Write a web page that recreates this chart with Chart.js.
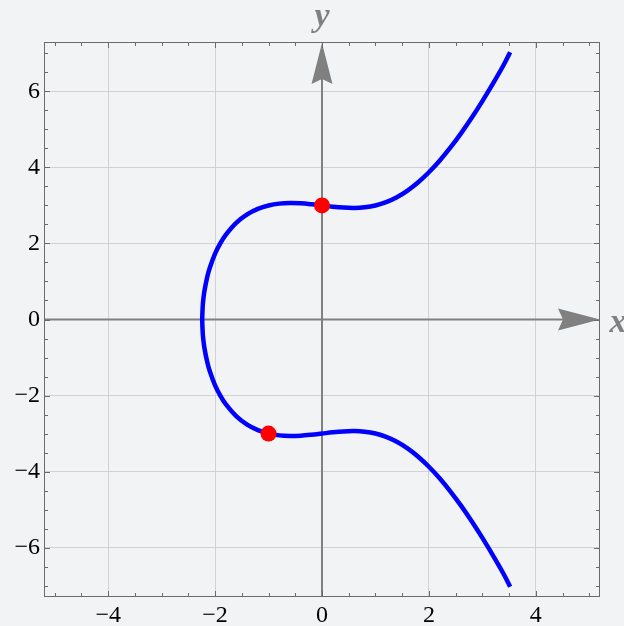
<!DOCTYPE html>
<html>
<head>
<meta charset="utf-8">
<script src="https://cdn.jsdelivr.net/npm/chart.js@4.4.1/dist/chart.umd.min.js"></script>
<style>
  html, body { margin: 0; padding: 0; background: #f2f3f5; }
  #wrap { width: 624px; height: 626px; }
</style>
</head>
<body>
<div id="wrap"><canvas id="curveChart" width="624" height="626"></canvas></div>
<script>
// --- values ---
const curveX = [-2.24, -2.23, -2.22, -2.2, -2.15, -2.1, -2.0, -1.9, -1.8, -1.6, -1.4, -1.2, -1.0,
    -0.8, -0.6, -0.4, -0.2, 0, 0.2, 0.4, 0.6, 0.8, 1.0, 1.2, 1.4, 1.6, 1.8, 2.0,
    2.2, 2.4, 2.6, 2.8, 3.0, 3.2, 3.4, 3.52];
const upperY = [0, 0.375, 0.528, 0.743, 1.101, 1.356, 1.732, 2.010, 2.229, 2.550, 2.767, 2.911, 3.0,
    3.048, 3.063, 3.056, 3.032, 3.0, 2.968, 2.944, 2.935, 2.952, 3.0, 3.087, 3.216, 3.391, 3.610, 3.873,
    4.177, 4.519, 4.897, 5.306, 5.745, 6.210, 6.701, 7.03];
const lowerY = [0, -0.375, -0.528, -0.743, -1.101, -1.356, -1.732, -2.010, -2.229, -2.550, -2.767, -2.911, -3.0,
    -3.048, -3.063, -3.056, -3.032, -3.0, -2.968, -2.944, -2.935, -2.952, -3.0, -3.087, -3.216, -3.391, -3.610, -3.873,
    -4.177, -4.519, -4.897, -5.306, -5.745, -6.210, -6.701, -7.03];
const markX = [0, -1];
const markY = [3, -3];
const xTicks = [-4, -2, 0, 2, 4];
const yTicks = [-6, -4, -2, 0, 2, 4, 6];

const axisColor = '#808080';
const frameColor = '#6b6b6b';
const gridColor = '#d2d2d2';
const serif = "'Liberation Serif', 'DejaVu Serif', serif";

// one continuous path: lower branch from the right end back to the root, then the upper branch
const curvePoints = [];
for (let i = curveX.length - 1; i >= 1; i--) curvePoints.push({ x: curveX[i], y: lowerY[i] });
for (let i = 0; i < curveX.length; i++) curvePoints.push({ x: curveX[i], y: upperY[i] });
const markPoints = markX.map((v, i) => ({ x: v, y: markY[i] }));

const fmt = v => (v < 0 ? '\u2212' + Math.abs(v) : String(v));

// axes with arrows, frame with inward ticks, axis letters
const axesPlugin = {
    id: 'axesPlugin',
    beforeDatasetsDraw(chart) {
        const { ctx, chartArea: a, scales: { x, y } } = chart;
        const x0 = x.getPixelForValue(0);
        const y0 = y.getPixelForValue(0);
        ctx.save();
        ctx.strokeStyle = axisColor;
        ctx.lineWidth = 2;
        ctx.beginPath();
        ctx.moveTo(a.left, y0); ctx.lineTo(a.right - 30, y0);
        ctx.moveTo(x0, a.bottom); ctx.lineTo(x0, a.top + 30);
        ctx.stroke();
        ctx.fillStyle = axisColor;
        // x arrow
        ctx.beginPath();
        ctx.moveTo(a.right, y0);
        ctx.lineTo(a.right - 42, y0 - 11);
        ctx.lineTo(a.right - 37, y0);
        ctx.lineTo(a.right - 42, y0 + 11);
        ctx.closePath();
        ctx.fill();
        // y arrow
        ctx.beginPath();
        ctx.moveTo(x0, a.top + 1);
        ctx.lineTo(x0 - 10.5, a.top + 42);
        ctx.lineTo(x0, a.top + 37);
        ctx.lineTo(x0 + 10.5, a.top + 42);
        ctx.closePath();
        ctx.fill();
        ctx.restore();
    },
    afterDraw(chart) {
        const { ctx, chartArea: a, scales: { x, y } } = chart;
        ctx.save();
        ctx.strokeStyle = frameColor;
        ctx.lineWidth = 1;
        ctx.strokeRect(Math.round(a.left) + 0.5, Math.round(a.top) + 0.5,
            Math.round(a.right - a.left) - 1, Math.round(a.bottom - a.top) - 1);
        ctx.beginPath();
        for (let v = -5; v <= 5; v += 0.5) {
            const px = Math.round(x.getPixelForValue(v)) + 0.5;
            const len = v % 2 === 0 ? 6 : 4;
            ctx.moveTo(px, a.bottom); ctx.lineTo(px, a.bottom - len);
            ctx.moveTo(px, a.top); ctx.lineTo(px, a.top + len);
        }
        for (let v = -7; v <= 7; v += 0.5) {
            const py = Math.round(y.getPixelForValue(v)) + 0.5;
            const len = v % 2 === 0 ? 6 : 4;
            ctx.moveTo(a.left, py); ctx.lineTo(a.left + len, py);
            ctx.moveTo(a.right, py); ctx.lineTo(a.right - len, py);
        }
        ctx.stroke();

        // axis letters
        ctx.fillStyle = axisColor;
        ctx.font = "italic bold 34px " + serif;
        ctx.textAlign = 'center';
        ctx.textBaseline = 'alphabetic';
        ctx.fillText('y', x.getPixelForValue(0), 26);
        ctx.fillText('x', 618, y.getPixelForValue(0) + 12);
        ctx.restore();
    }
};

function drawChart() {
    const chartElement = document.getElementById('curveChart');
    if (!chartElement) return;
    new Chart(chartElement.getContext('2d'), {
        type: 'scatter',
        data: {
            datasets: [
                {
                    label: 'points',
                    data: markPoints,
                    pointRadius: 8,
                    pointBackgroundColor: '#ff0000',
                    pointBorderColor: '#ff0000',
                    pointBorderWidth: 0,
                    showLine: false,
                    order: 0
                },
                {
                    label: 'curve',
                    data: curvePoints,
                    showLine: true,
                    borderColor: '#0000ff',
                    borderWidth: 4.5,
                    pointRadius: 0,
                    tension: 0.35,
                    fill: false,
                    order: 1
                }
            ]
        },
        options: {
            responsive: false,
            animation: false,
            layout: { padding: { left: 0, right: 24, top: 42, bottom: 0 } },
            plugins: {
                legend: { display: false },
                tooltip: { enabled: false }
            },
            scales: {
                x: {
                    type: 'linear',
                    min: -5.2,
                    max: 5.2,
                    afterBuildTicks: s => { s.ticks = xTicks.map(v => ({ value: v })); },
                    afterFit: s => { s.height = 29; },
                    border: { display: false },
                    grid: { color: gridColor, lineWidth: 1, drawTicks: false },
                    ticks: {
                        padding: 4,
                        color: '#000',
                        font: { family: serif, size: 24 },
                        maxRotation: 0,
                        autoSkip: false,
                        callback: v => fmt(v)
                    }
                },
                y: {
                    type: 'linear',
                    min: -7.3,
                    max: 7.3,
                    afterBuildTicks: s => { s.ticks = yTicks.map(v => ({ value: v })); },
                    afterFit: s => { s.width = 44; },
                    border: { display: false },
                    grid: { color: gridColor, lineWidth: 1, drawTicks: false },
                    ticks: {
                        padding: 4,
                        color: '#000',
                        font: { family: serif, size: 24 },
                        autoSkip: false,
                        callback: v => fmt(v)
                    }
                }
            }
        },
        plugins: [axesPlugin]
    });
}

// make sure the serif face is ready before the canvas uses it
Promise.all([
    document.fonts.load("24px 'Liberation Serif'"),
    document.fonts.load("italic bold 34px 'Liberation Serif'")
]).then(drawChart, drawChart);
</script>
</body>
</html>
